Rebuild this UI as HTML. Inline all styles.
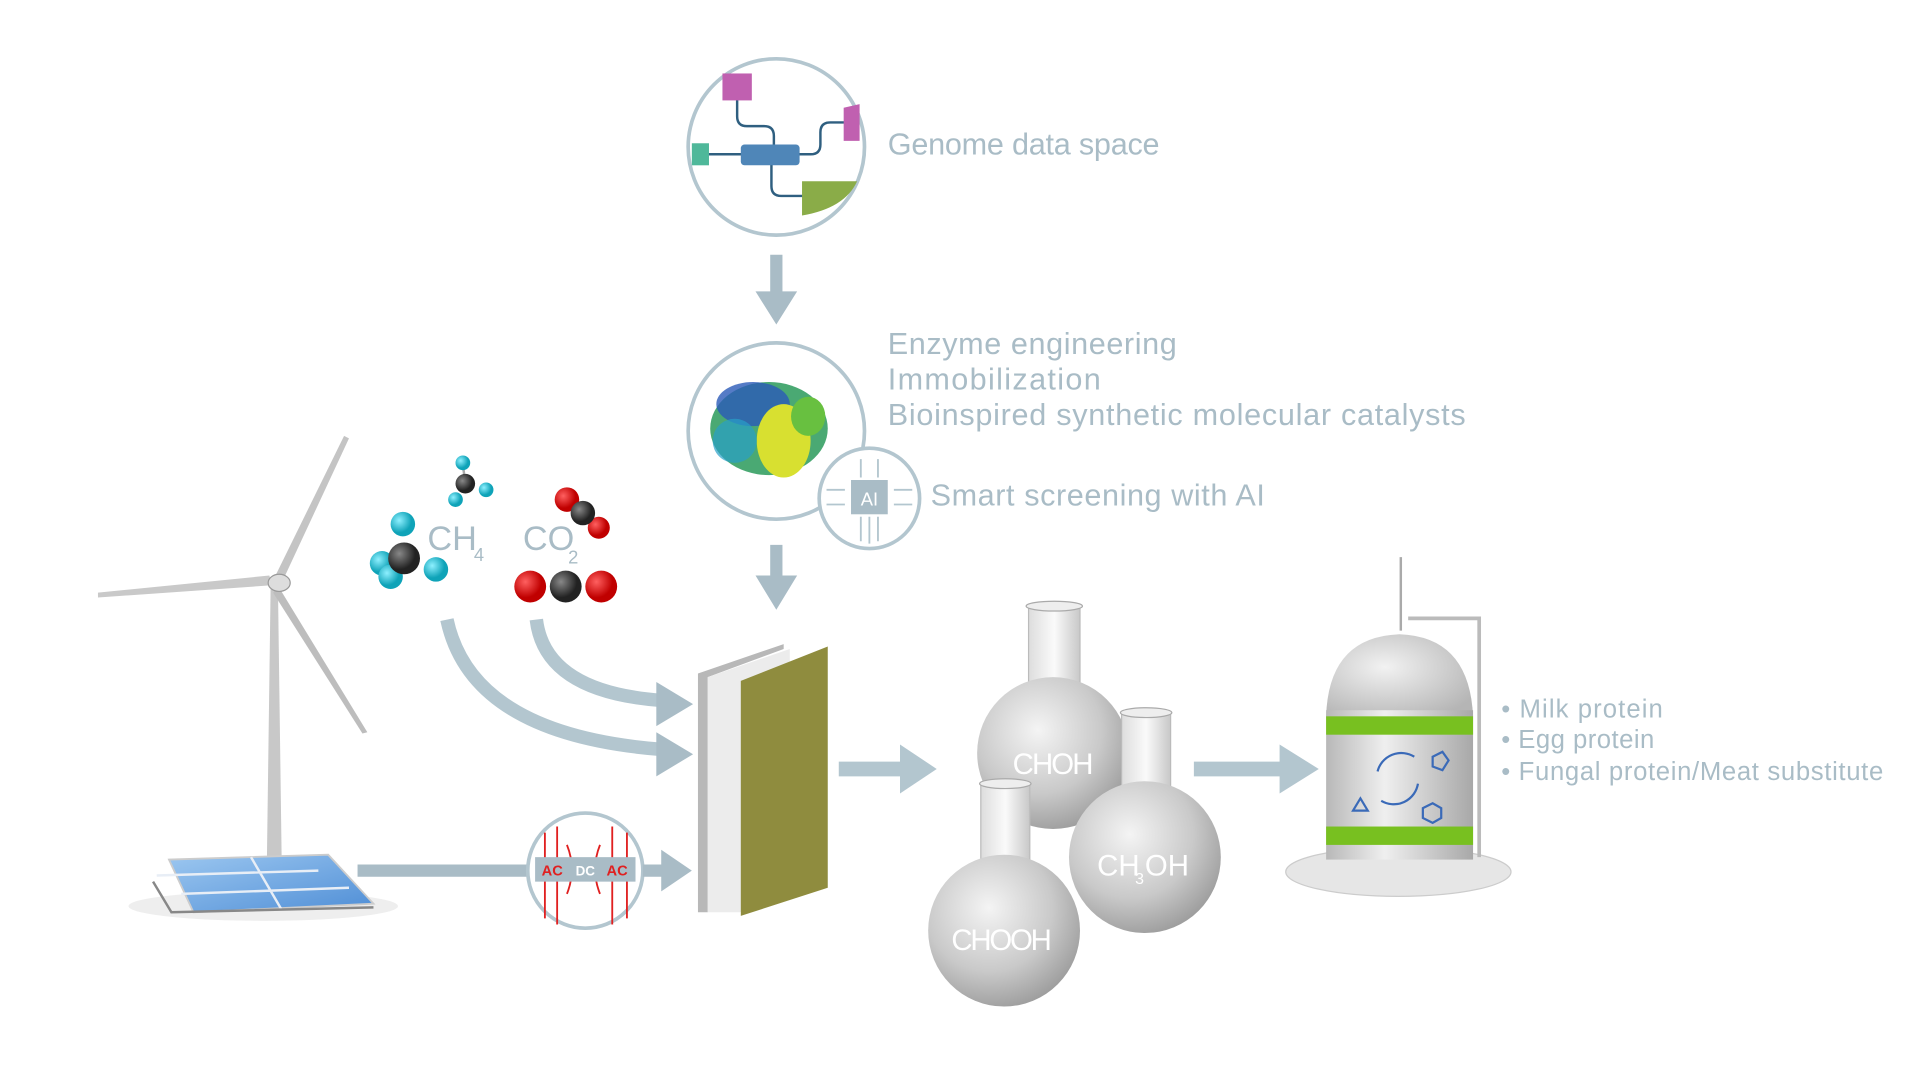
<!DOCTYPE html>
<html><head><meta charset="utf-8"><style>
html,body{margin:0;padding:0;background:#fff;width:1920px;height:1080px;overflow:hidden}
svg{display:block}
text{font-family:"Liberation Sans Narrow","Liberation Sans",sans-serif;fill:#a9bcc6}
</style></head><body>
<svg width="1920" height="1080" viewBox="0 0 1568 882" xmlns="http://www.w3.org/2000/svg">
<defs>
<radialGradient id="glass" cx="0.4" cy="0.35" r="0.7"><stop offset="0" stop-color="#f4f4f4"/><stop offset="0.6" stop-color="#c9c9c9"/><stop offset="1" stop-color="#9a9a9a"/></radialGradient>
<linearGradient id="neck" x1="0" x2="1"><stop offset="0" stop-color="#ddd"/><stop offset="0.5" stop-color="#fafafa"/><stop offset="1" stop-color="#c8c8c8"/></linearGradient>
<linearGradient id="tank" x1="0" x2="1"><stop offset="0" stop-color="#b8b8b8"/><stop offset="0.4" stop-color="#efefef"/><stop offset="1" stop-color="#a8a8a8"/></linearGradient>
<radialGradient id="dome" cx="0.4" cy="0.4" r="0.7"><stop offset="0" stop-color="#f2f2f2"/><stop offset="1" stop-color="#b5b5b5"/></radialGradient>
<radialGradient id="cyan" cx="0.35" cy="0.35"><stop offset="0" stop-color="#8ef0ff"/><stop offset="1" stop-color="#0fa3b8"/></radialGradient>
<radialGradient id="red" cx="0.35" cy="0.35"><stop offset="0" stop-color="#ff6060"/><stop offset="1" stop-color="#c00000"/></radialGradient>
<radialGradient id="dark" cx="0.35" cy="0.35"><stop offset="0" stop-color="#888"/><stop offset="1" stop-color="#222"/></radialGradient>
<linearGradient id="solar" x1="0" x2="1" y1="0" y2="1"><stop offset="0" stop-color="#9cc7f0"/><stop offset="1" stop-color="#4f8ed6"/></linearGradient>
</defs>

<!-- Genome circle -->
<circle cx="634" cy="120" r="72" fill="#fff" stroke="#b3c6cf" stroke-width="3"/>
<path d="M602 80 v15 q0 8 8 8 h14 q8 0 8 8 v10" fill="none" stroke="#2f5f80" stroke-width="2"/>
<path d="M652 126 h10 q8 0 8 -8 v-10 q0 -8 8 -8 h12" fill="none" stroke="#2f5f80" stroke-width="2"/>
<path d="M630 134 v18 q0 8 8 8 h18" fill="none" stroke="#2f5f80" stroke-width="2"/>
<path d="M578 126 h28" stroke="#2f5f80" stroke-width="2"/>
<rect x="590" y="60" width="24" height="22" fill="#c060b0"/>
<path d="M689 88 l13 -3 v30 h-13z" fill="#c060b0"/>
<rect x="565" y="117" width="14" height="18" fill="#4fb89a"/>
<rect x="605" y="118" width="48" height="17" rx="3" fill="#4f86b8"/>
<path d="M655 148 h45 q-10 22 -45 28z" fill="#8aac48"/>
<text x="725" y="126" font-size="25" textLength="222">Genome data space</text>

<!-- arrow 1 -->
<path d="M629 208 h10 v30 h12 l-17 27 l-17 -27 h12z" fill="#a9bcc6"/>

<!-- Enzyme circle -->
<circle cx="634" cy="352" r="72" fill="#fff" stroke="#b3c6cf" stroke-width="3"/>
<g>
<ellipse cx="628" cy="350" rx="48" ry="38" fill="#2a9a5a" opacity="0.85"/>
<ellipse cx="615" cy="330" rx="30" ry="18" fill="#2a5ab8" opacity="0.8"/>
<ellipse cx="640" cy="360" rx="22" ry="30" fill="#d8e030"/>
<ellipse cx="600" cy="360" rx="18" ry="18" fill="#28a0c8" opacity="0.7"/>
<ellipse cx="660" cy="340" rx="14" ry="16" fill="#68c040"/>
</g>
<text x="725" y="289" font-size="25" textLength="236">Enzyme engineering</text>
<text x="725" y="318" font-size="25" textLength="174">Immobilization</text>
<text x="725" y="347" font-size="25" textLength="472">Bioinspired synthetic molecular catalysts</text>

<!-- AI circle -->
<circle cx="710" cy="407" r="41" fill="#fff" stroke="#b3c6cf" stroke-width="3"/>
<g stroke="#b3c6cf" stroke-width="1.5" fill="none">
<path d="M690 400 h-15 M690 412 h-15 M730 400 h15 M730 412 h15 M703 390 v-15 M717 390 v-15 M703 422 v20 M717 422 v20 M710 422 v22"/>
</g>
<rect x="695" y="392" width="30" height="28" fill="#a9bcc6"/>
<text x="710" y="413" font-size="15" text-anchor="middle" style="fill:#fff">AI</text>
<text x="760" y="413" font-size="25" textLength="273">Smart screening with AI</text>

<!-- arrow 2 -->
<path d="M629 445 h10 v25 h12 l-17 28 l-17 -28 h12z" fill="#a9bcc6"/>

<!-- Wind turbine -->
<path d="M221 480 L218 700 h12 L227 480z" fill="#c8c8c8"/>
<path d="M224 472 L281 356 L285 358 L231 474z" fill="#c4c4c4"/>
<path d="M222 478 L80 488 L80 484 L220 470z" fill="#c9c9c9"/>
<path d="M228 480 L300 598 L296 599 L223 484z" fill="#bdbdbd"/>
<ellipse cx="228" cy="476" rx="9" ry="7" fill="#ddd" stroke="#999"/>

<!-- Solar -->
<ellipse cx="215" cy="740" rx="110" ry="12" fill="#eee"/>
<path d="M138 702 L268 698 L305 738 L158 745z" fill="url(#solar)" stroke="#ccc" stroke-width="1.5"/>
<path d="M128 715 L260 711 M148 730 L285 725 M205 700 L230 743" stroke="#e8eef6" stroke-width="2"/>
<path d="M125 720 L140 745 L305 741" fill="none" stroke="#888" stroke-width="2"/>

<!-- line to AC/DC -->
<path d="M292 706 h138 v10 h-138z" fill="#a9bcc6"/>
<circle cx="478" cy="711" r="47" fill="#fff" stroke="#b3c6cf" stroke-width="3"/>
<g stroke="#e02020" stroke-width="1.5" fill="none">
<path d="M445 680 v70 M455 675 v80 M500 675 v80 M512 680 v70 M463 690 q8 20 0 40 M490 690 q-8 20 0 40"/>
</g>
<rect x="437" y="700" width="82" height="20" fill="#a9bcc6"/>
<text x="451" y="715" font-size="12" font-weight="bold" text-anchor="middle" style="fill:#e02020">AC</text>
<text x="478" y="715" font-size="11" font-weight="bold" text-anchor="middle" style="fill:#fff">DC</text>
<text x="504" y="715" font-size="12" font-weight="bold" text-anchor="middle" style="fill:#e02020">AC</text>
<path d="M525 706 h15 v-12 l25 17 l-25 17 v-12 h-15z" fill="#a9bcc6"/>

<!-- Molecules -->
<line x1="380" y1="395" x2="378" y2="379" stroke="#aaa" stroke-width="2"/>
<circle cx="378" cy="378" r="6" fill="url(#cyan)"/>
<circle cx="372" cy="408" r="6" fill="url(#cyan)"/>
<circle cx="397" cy="400" r="6" fill="url(#cyan)"/>
<circle cx="380" cy="395" r="8" fill="url(#dark)"/>
<circle cx="329" cy="428" r="10" fill="url(#cyan)"/>
<circle cx="312" cy="460" r="10" fill="url(#cyan)"/>
<circle cx="319" cy="471" r="10" fill="url(#cyan)"/>
<circle cx="356" cy="465" r="10" fill="url(#cyan)"/>
<circle cx="330" cy="456" r="13" fill="url(#dark)"/>
<text x="349" y="449" font-size="28">CH</text><text x="387" y="458" font-size="15">4</text>
<circle cx="463" cy="408" r="10" fill="url(#red)"/>
<circle cx="489" cy="431" r="9" fill="url(#red)"/>
<circle cx="476" cy="419" r="10" fill="url(#dark)"/>
<text x="427" y="449" font-size="28">CO</text><text x="464" y="460" font-size="15">2</text>
<circle cx="433" cy="479" r="13" fill="url(#red)"/>
<circle cx="491" cy="479" r="13" fill="url(#red)"/>
<circle cx="462" cy="479" r="13" fill="url(#dark)"/>

<!-- curved arrows -->
<path d="M365 506 Q385 600 540 612" fill="none" stroke="#b3c6cf" stroke-width="11"/>
<path d="M536 598 l30 18 l-30 18z" fill="#a9bcc6"/>
<path d="M438 506 Q445 565 540 572" fill="none" stroke="#b3c6cf" stroke-width="11"/>
<path d="M536 557 l30 18 l-30 18z" fill="#a9bcc6"/>

<!-- Electrolyzer -->
<path d="M570 550 L640 526 L640 530 L578 553 V745 H570z" fill="#b8b8b8"/>
<path d="M578 553 L645 530 V735 L604 745 H578z" fill="#ececec"/>
<path d="M605 556 L676 528 V725 L605 748z" fill="#8f8c3e"/>

<!-- arrow to flasks -->
<path d="M685 622 h50 v-14 l30 20 l-30 20 v-14 h-50z" fill="#b3c6cf"/>

<!-- Flasks -->
<g>
<rect x="840" y="495" width="42" height="80" fill="url(#neck)" stroke="#bbb"/>
<ellipse cx="861" cy="495" rx="23" ry="4" fill="#eee" stroke="#aaa"/>
<circle cx="860" cy="615" r="62" fill="url(#glass)"/>
<text x="860" y="632" font-size="24" text-anchor="middle" style="fill:#fff" textLength="66">CHOH</text>
</g>
<g>
<rect x="916" y="582" width="40" height="65" fill="url(#neck)" stroke="#bbb"/>
<ellipse cx="936" cy="582" rx="21" ry="4" fill="#eee" stroke="#aaa"/>
<circle cx="935" cy="700" r="62" fill="url(#glass)"/>
<text x="896" y="715" font-size="24" style="fill:#fff">CH</text><text x="927" y="722" font-size="13" style="fill:#fff">3</text><text x="935" y="715" font-size="24" style="fill:#fff">OH</text>
</g>
<g>
<rect x="801" y="640" width="40" height="70" fill="url(#neck)" stroke="#bbb"/>
<ellipse cx="821" cy="640" rx="21" ry="4" fill="#eee" stroke="#aaa"/>
<circle cx="820" cy="760" r="62" fill="url(#glass)"/>
<text x="818" y="776" font-size="24" text-anchor="middle" style="fill:#fff" textLength="82">CHOOH</text>
</g>

<!-- arrow to tank -->
<path d="M975 622 h70 v-14 l32 20 l-32 20 v-14 h-70z" fill="#b3c6cf"/>

<!-- Tank -->
<ellipse cx="1142" cy="712" rx="92" ry="20" fill="#e6e6e6" stroke="#ccc"/>
<line x1="1144" y1="455" x2="1144" y2="515" stroke="#aaa" stroke-width="2"/>
<path d="M1150 505 H1208 V700" fill="none" stroke="#bbb" stroke-width="3"/>
<path d="M1083 585 Q1085 520 1143 518 Q1200 520 1203 585z" fill="url(#dome)"/>
<rect x="1083" y="580" width="120" height="122" fill="url(#tank)"/>
<rect x="1083" y="585" width="120" height="15" fill="#78c020"/>
<rect x="1083" y="675" width="120" height="15" fill="#78c020"/>
<g stroke="#3a6ab8" stroke-width="1.8" fill="none">
<path d="M1125 630 a20 20 0 0 1 30 -12"/>
<path d="M1158 640 a20 20 0 0 1 -30 14"/>
<path d="M1170 618 l8 -4 l5 7 l-5 8 l-8 -3z"/>
<path d="M1105 662 l6 -10 l6 10z"/>
<path d="M1162 660 l8 -4 l7 4 v8 l-7 4 l-8 -4z"/>
</g>

<!-- bullets -->
<text x="1226" y="586" font-size="21" textLength="132">• Milk protein</text>
<text x="1226" y="611" font-size="21" textLength="125">• Egg protein</text>
<text x="1226" y="637" font-size="21" textLength="312">• Fungal protein/Meat substitute</text>
</svg>
</body></html>
